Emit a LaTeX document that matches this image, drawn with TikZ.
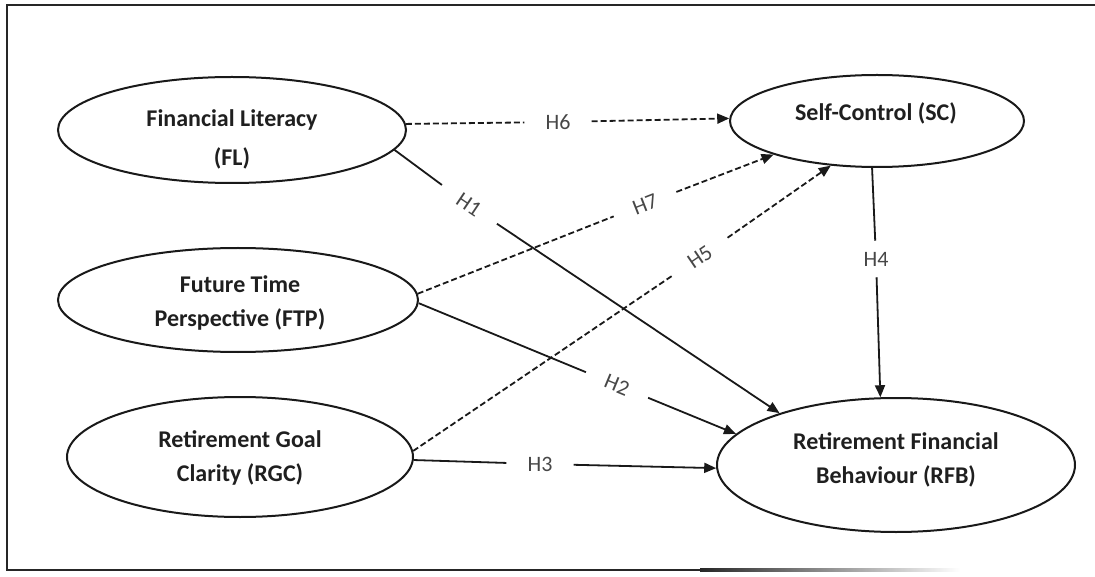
\documentclass[tikz,border=0pt]{standalone}
\usepackage{fontspec}
\setmainfont{Carlito}
\usetikzlibrary{shapes.geometric,arrows.meta}

\begin{document}
\begin{tikzpicture}[x=1pt,y=-1pt,
  var/.style={draw=black!90, line width=2pt, ellipse, inner sep=0pt},
  vartext/.style={font=\fontsize{24}{34}\selectfont\bfseries, align=center, text=black!88},
  solidarrow/.style={line width=1.8pt, draw=black!90},
  dashline/.style={solidarrow, dash pattern=on 6pt off 3pt},
  tip/.style={-{Triangle[length=12pt,width=10pt]}},
  hyp/.style={font=\fontsize{22}{26}\selectfont, text=black!72, inner xsep=21pt, inner ysep=12pt}
]
\useasboundingbox (0,0) rectangle (1095,577);

% outer frame, its bottom edge fading out to the right
\draw[line width=2.4pt, black!85, line join=miter] (1095,5) -- (7,5) -- (7,570) -- (700,570);
\shade[left color=black!85, right color=white] (700,568.8) rectangle (960,571.2);

% latent constructs
\node[var, minimum width=348pt, minimum height=106pt] (fl)  at (232,130) {};
\node[var, minimum width=360pt, minimum height=104pt] (ftp) at (238,300) {};
\node[var, minimum width=346pt, minimum height=120pt] (rgc) at (240,457) {};
\node[var, minimum width=294pt, minimum height=92pt]  (sc)  at (877,121) {};
\node[var, minimum width=358pt, minimum height=134pt] (rfb) at (896,465) {};

\node[vartext] (flt)  at (232,139) {Financial Literacy\\[5pt](FL)};
\node[vartext] (ftpt) at (240,303) {Future Time\\Perspective (FTP)};
\node[vartext] (rgct) at (240,458) {Retirement Goal\\Clarity (RGC)};
\node[vartext] (sct)  at (876,113) {Self-Control (SC)};
\node[vartext] (rfbt) at (896,460) {Retirement Financial\\Behaviour (RFB)};

% hypothesis labels, each sitting in a gap of its path
\node[hyp]                (h6) at (558,122) {H6};
\node[hyp, rotate=-33.9]  (h1) at (469,205) {H1};
\node[hyp, rotate=21.4]   (h7) at (645,204) {H7};
\node[hyp, rotate=34.3]   (h5) at (700,257) {H5};
\node[hyp, inner ysep=11pt] (h4) at (876,259) {H4};
\node[hyp, rotate=-22.5]  (h2) at (617,385) {H2};
\node[hyp]                (h3) at (540,464) {H3};

% hypothesised paths
\draw[dashline]      (fl.2)    -- (h6);
\draw[dashline, tip] (h6)      -- (sc.179);
\draw[solidarrow]      (fl.-7.6) -- (h1);
\draw[solidarrow, tip] (h1)      -- (rfb.156);
\draw[dashline]      (ftp.2)   -- (h7);
\draw[dashline, tip] (h7)      -- (sc.198);
\draw[dashline]      (rgc.2)   -- (h5);
\draw[dashline, tip] (h5)      -- (sc.224);
\draw[solidarrow]      (sc.-96)  -- (h4);
\draw[solidarrow, tip] (h4)      -- (rfb.103);
\draw[solidarrow]      (ftp.-1)  -- (h2);
\draw[solidarrow, tip] (h2)      -- (rfb.169);
\draw[solidarrow]      (rgc.-1)  -- (h3);
\draw[solidarrow, tip] (h3)      -- (rfb.181);
\end{tikzpicture}
\end{document}
